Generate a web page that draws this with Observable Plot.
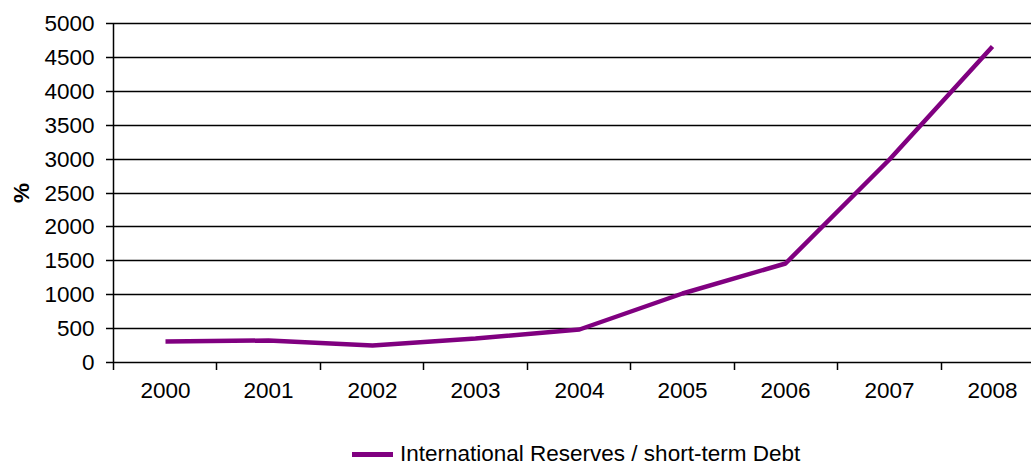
<!DOCTYPE html>
<html>
<head>
<meta charset="utf-8">
<script src="https://cdn.jsdelivr.net/npm/d3@7"></script>
<script src="https://cdn.jsdelivr.net/npm/@observablehq/plot@0.6"></script>
<style>
  html, body { margin: 0; padding: 0; background: #fff; }
  #wrap { position: relative; width: 1031px; height: 466px; font-family: "Liberation Sans", Arial, sans-serif; }
  #legend { position: absolute; left: 352px; top: 441px; display: flex; align-items: center; font-size: 22.5px; color: #000; }
  #legend .sw { width: 41px; height: 5px; background: #800080; margin-right: 7px; }
</style>
</head>
<body>
<div id="wrap">
  <div id="chart"></div>
  <div id="legend"><span class="sw"></span><span>International Reserves / short-term Debt</span></div>
</div>
<script>
const years = [2000, 2001, 2002, 2003, 2004, 2005, 2006, 2007, 2008];
const ratio = [310, 325, 250, 355, 490, 1020, 1465, 2990, 4655];
const yTicks = [0, 500, 1000, 1500, 2000, 2500, 3000, 3500, 4000, 4500, 5000];
const seriesName = "International Reserves / short-term Debt";

const data = years.map((y, i) => ({year: y, value: ratio[i]}));
const bounds = years.map(y => y - 0.5).concat([years[years.length - 1] + 0.5]);

const chart = Plot.plot({
  width: 1031,
  height: 430,
  marginLeft: 113,
  marginRight: 0,
  marginTop: 23,
  marginBottom: 68,
  style: {fontFamily: "'Liberation Sans', Arial, sans-serif", fontSize: "22px", color: "#000", background: "#fff"},
  x: {domain: [bounds[0], bounds[bounds.length - 1]], range: [113, 1044], round: true},
  y: {domain: [0, 5000], round: true},
  marks: [
    Plot.ruleY(yTicks, {stroke: "#000", strokeWidth: 1.5}),
    Plot.ruleX([bounds[0]], {y1: 0, y2: 5000, stroke: "#000", strokeWidth: 1.5}),
    Plot.axisY({ticks: yTicks, tickSize: 7, tickPadding: 12, stroke: "#000", strokeOpacity: 1, strokeWidth: 1.5, fontSize: 22.5,
      tickFormat: d => String(d),
      label: "%", labelAnchor: "center", labelArrow: "none", labelOffset: 100}),
    Plot.axisX({ticks: bounds, tickSize: 8, tickFormat: () => "", stroke: "#000", strokeOpacity: 1, strokeWidth: 1.5, label: null}),
    Plot.axisX({ticks: years, tickSize: 0, tickPadding: 20, tickFormat: d => String(d), fontSize: 22.5, label: null}),
    Plot.line(data, {x: "year", y: "value", stroke: "#800080", strokeWidth: 4.5, strokeLinejoin: "miter", strokeLinecap: "butt"})
  ]
});
document.getElementById("chart").appendChild(chart);
chart.querySelectorAll("[aria-label='y-axis label'] text").forEach(t => { t.setAttribute("font-weight", "bold"); });
</script>
</body>
</html>
